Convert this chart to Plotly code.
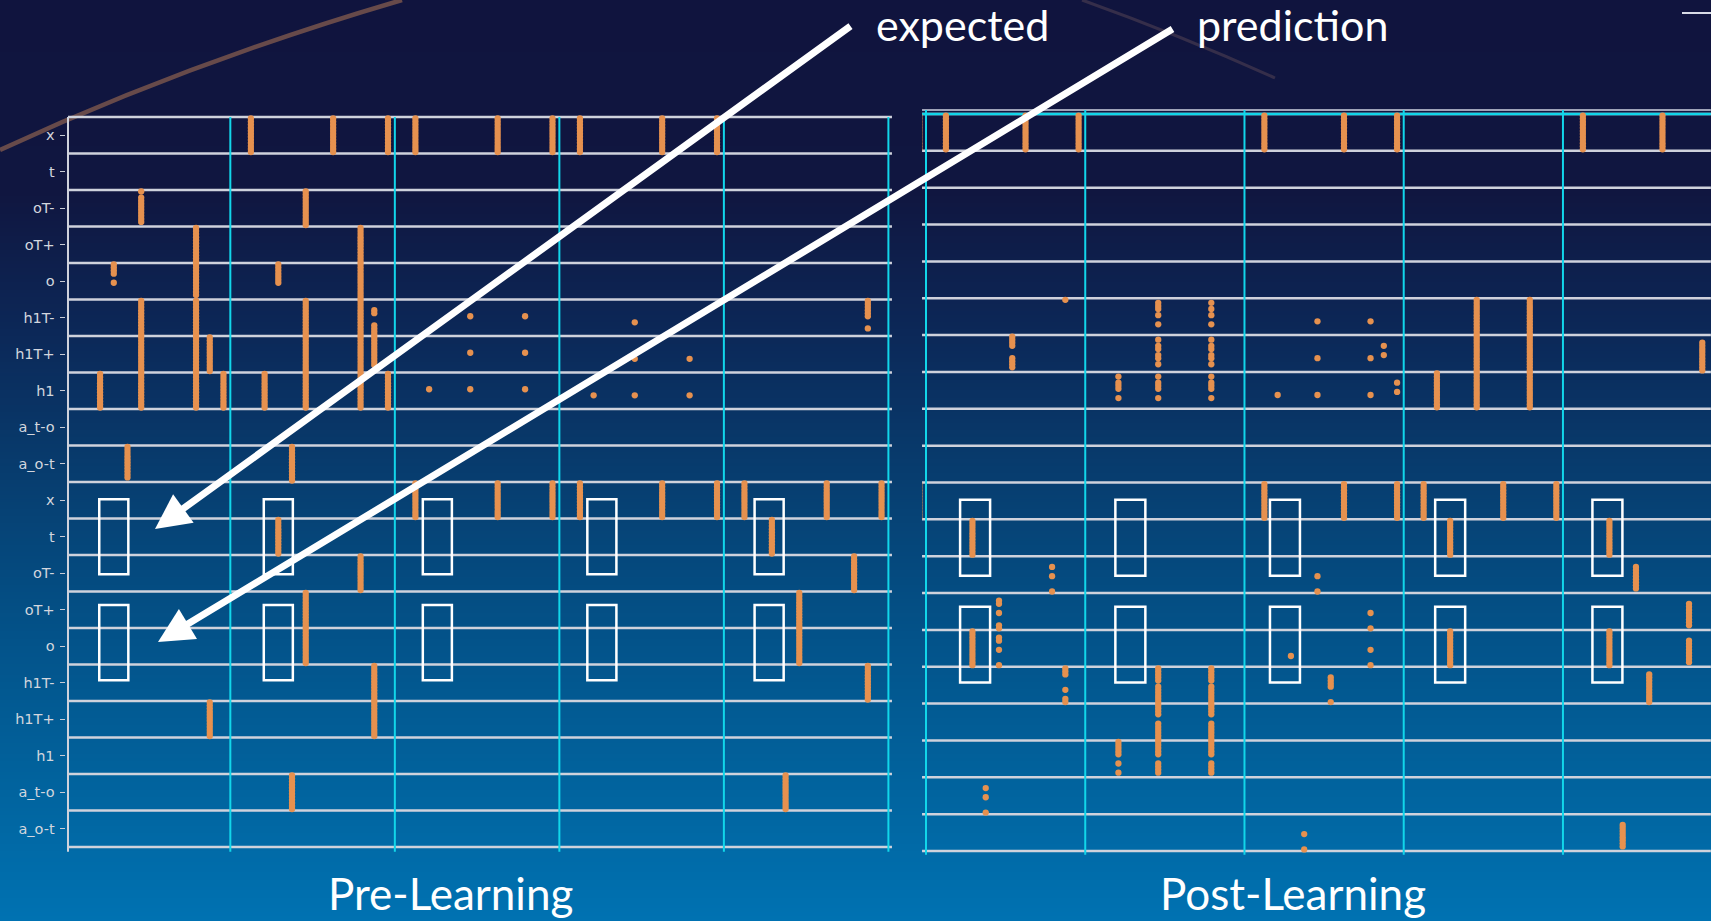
import base64
import struct
import zlib

import plotly.graph_objects as go

W, H = 1711, 921

# ---------------------------------------------------------------- data
ROW_LABELS = ["x", "t", "oT-", "oT+", "o", "h1T-", "h1T+", "h1", "a_t-o", "a_o-t",
              "x", "t", "oT-", "oT+", "o", "h1T-", "h1T+", "h1", "a_t-o", "a_o-t"]
NEURONS = 12          # neurons per population row
F = "|" * NEURONS     # whole population fires

# (time step, row, firing pattern of the row's neurons, top to bottom)
PRE_EVENTS = [
    (13, 0, F), (19, 0, F), (23, 0, F), (25, 0, F), (31, 0, F), (35, 0, F), (37, 0, F), (43, 0, F), (47, 0, F),
    (5, 2, "|.|||||||||."), (17, 2, F),
    (9, 3, F), (21, 3, F),
    (3, 4, "||||..|....."), (9, 4, "|||||||||||."), (15, 4, "|||||||....."), (21, 4, F),
    (5, 5, F), (9, 5, F), (17, 5, F), (21, 5, F), (22, 5, "...||...||||"),
    (29, 5, ".....|......"), (33, 5, ".....|......"), (41, 5, ".......|...."), (58, 5, "||||||...|.."),
    (5, 6, F), (9, 6, F), (10, 6, F), (17, 6, F), (21, 6, F), (22, 6, "||||||||||.."),
    (29, 6, ".....|......"), (33, 6, ".....|......"), (41, 6, ".......|...."), (45, 6, ".......|...."),
    (2, 7, F), (5, 7, F), (9, 7, F), (11, 7, F), (14, 7, F), (17, 7, F), (21, 7, F), (23, 7, F),
    (26, 7, ".....|......"), (29, 7, ".....|......"), (33, 7, ".....|......"),
    (38, 7, ".......|...."), (41, 7, ".......|...."), (45, 7, ".......|...."),
    (4, 9, "|||||||||||."), (16, 9, F),
    (25, 10, F), (31, 10, F), (35, 10, F), (37, 10, F), (43, 10, F), (47, 10, F), (49, 10, F), (55, 10, F), (59, 10, F),
    (15, 11, F), (51, 11, F),
    (21, 12, F), (57, 12, F),
    (17, 13, F), (53, 13, F),
    (17, 14, F), (53, 14, F),
    (22, 15, F), (58, 15, F),
    (10, 16, F), (22, 16, F),
    (16, 18, F), (52, 18, F),
]

POST_EVENTS = [
    (-1, 0, F), (1, 0, F), (7, 0, F), (11, 0, F), (25, 0, F), (31, 0, F), (35, 0, F), (49, 0, F), (55, 0, F),
    (10, 5, "|..........."), (17, 5, ".|||.|..|..."), (21, 5, ".|.|.|..|..."),
    (29, 5, ".......|...."), (33, 5, ".......|...."), (41, 5, F), (45, 5, F),
    (6, 6, "||||...||||."), (17, 6, ".|.||.||.|.."), (21, 6, ".|.||.||.|.."),
    (29, 6, ".......|...."), (33, 6, ".......|...."), (34, 6, "...|..|....."),
    (41, 6, F), (45, 6, F), (58, 6, "..||||||||||"),
    (14, 7, ".|.|||..|..."), (17, 7, ".|.|||..|..."), (21, 7, ".|.|||..|..."),
    (26, 7, ".......|...."), (29, 7, ".......|...."), (33, 7, ".......|...."), (35, 7, "...|..|....."),
    (38, 7, F), (41, 7, F), (45, 7, F),
    (-1, 10, F), (25, 10, F), (31, 10, F), (35, 10, F), (37, 10, F), (43, 10, F), (47, 10, F),
    (3, 11, F), (39, 11, F), (51, 11, F),
    (9, 12, "...|..|....|"), (29, 12, "......|....|"), (53, 12, "...||||||||."),
    (5, 13, "..||..|...||"), (33, 13, "......|....|"), (57, 13, "...||||||||."),
    (3, 14, F), (5, 14, "..||..|....|"), (27, 14, "........|..."), (33, 14, "......|....|"),
    (39, 14, F), (51, 14, F), (57, 14, "...||||||||."),
    (10, 15, "|||....|..||"), (17, 15, "|||||.||||||"), (21, 15, "|||||.||||||"),
    (30, 15, "...||||....|"), (54, 15, "..||||||||||"),
    (17, 16, "||||..||||||"), (21, 16, "||||..||||||"),
    (14, 17, "|||||..|..|."), (17, 17, "|||||..||||."), (21, 17, "|||||..||||."),
    (4, 18, "...|..|....|"),
    (28, 19, "......|....|"), (52, 19, "...||||||||."),
]

# episode boundaries (every 12 steps)
PRE_EPISODE_EDGES = [11.5, 23.5, 35.5, 47.5, 59.5]
POST_EPISODE_EDGES = [-0.5, 11.5, 23.5, 35.5, 47.5, 59.5]

# centres of the highlighted comparison windows (time steps)
PRE_WINDOWS = [3.0, 15.0, 26.6, 38.6, 50.8]
POST_WINDOWS = [3.2, 14.9, 26.55, 39.0, 50.85]
WINDOW_ROWS = [(9.97, 12.03), (12.87, 14.93)]

TITLES = ["Pre-Learning", "Post-Learning"]

# ---------------------------------------------------------------- style
ORANGE = "#e6914f"
GRID = "#cfd2dc"
CYAN = "#12d6ea"
TEXT = "#ffffff"

# panel geometry: px = a + b*step ; py = c + d*row
PANELS = {
    "pre": dict(a=72.66, b=13.71, c=135.25, d=36.5, xlim=(-0.45, 59.85), ylim=(-0.62, 19.68),
                grid_x=(-0.34, 59.76)),
    "post": dict(a=932.635, b=13.27, c=132.425, d=36.85, xlim=(-0.8, 58.65), ylim=(-0.72, 19.68),
                 grid_x=(-0.8, 58.65)),
}


def domains(p):
    x0 = (p["a"] + p["b"] * p["xlim"][0]) / W
    x1 = min(1.0, (p["a"] + p["b"] * p["xlim"][1]) / W)
    ytop = p["c"] + p["d"] * p["ylim"][0]
    ybot = p["c"] + p["d"] * p["ylim"][1]
    return [x0, x1], [1 - ybot / H, 1 - ytop / H]


def expand(events):
    xs, ys = [], []
    for step, row, pattern in events:
        for j, ch in enumerate(pattern):
            if ch == "|":
                xs.append(step)
                ys.append(row - 0.5 + (j + 0.5) / NEURONS)
    return xs, ys


def gradient_uri(stops, height=256):
    raw = bytearray()
    for i in range(height):
        y = i * (H - 1) / (height - 1)
        for k in range(len(stops) - 1):
            y0, c0 = stops[k]
            y1, c1 = stops[k + 1]
            if y0 <= y <= y1:
                f = (y - y0) / (y1 - y0)
                rgb = [round(c0[n] + (c1[n] - c0[n]) * f) for n in range(3)]
                break
        raw += b"\x00" + bytes(rgb) * 2

    def chunk(tag, data):
        return (struct.pack(">I", len(data)) + tag + data
                + struct.pack(">I", zlib.crc32(tag + data) & 0xFFFFFFFF))

    png = (b"\x89PNG\r\n\x1a\n"
           + chunk(b"IHDR", struct.pack(">IIBBBBB", 2, height, 8, 2, 0, 0, 0))
           + chunk(b"IDAT", zlib.compress(bytes(raw)))
           + chunk(b"IEND", b""))
    return "data:image/png;base64," + base64.b64encode(png).decode()


BACKDROP = [
    (0, (16, 20, 62)), (190, (16, 22, 64)), (330, (12, 40, 88)), (480, (7, 62, 112)),
    (640, (3, 83, 138)), (800, (1, 101, 160)), (921, (0, 114, 178)),
]

fig = go.Figure()
shapes = []

for key, events, xa, ya in (("pre", PRE_EVENTS, "x", "y"), ("post", POST_EVENTS, "x2", "y2")):
    xs, ys = expand(events)
    fig.add_trace(go.Scatter(
        x=xs, y=ys, mode="markers", xaxis=xa, yaxis=ya, hoverinfo="skip", showlegend=False,
        marker=dict(color=ORANGE, size=6.3, line=dict(width=0)),
    ))
    p = PANELS[key]
    gx0, gx1 = p["grid_x"]
    for r in range(21):
        shapes.append(dict(type="line", xref=xa, yref=ya, x0=gx0, x1=gx1, y0=r - 0.5, y1=r - 0.5,
                           line=dict(color=GRID, width=2.5), layer="below"))

# left spine of the pre-learning panel
shapes.append(dict(type="line", xref="x", yref="y", x0=-0.34, x1=-0.34, y0=-0.5, y1=19.63,
                   line=dict(color=GRID, width=2), layer="below"))

for e in PRE_EPISODE_EDGES:
    shapes.append(dict(type="line", xref="x", yref="y", x0=e, x1=e, y0=-0.5, y1=19.63,
                       line=dict(color=CYAN, width=2), layer="below"))

# post-learning panel: doubled top rule, cyan episode edges
shapes.append(dict(type="line", xref="x2", yref="y2", x0=-0.8, x1=58.65, y0=-0.61, y1=-0.61,
                   line=dict(color="#9ea3b8", width=2), layer="below"))
for e in POST_EPISODE_EDGES:
    shapes.append(dict(type="line", xref="x2", yref="y2", x0=e, x1=e, y0=-0.61, y1=19.6,
                       line=dict(color=CYAN, width=2), layer="below"))
shapes.append(dict(type="line", xref="x2", yref="y2", x0=-0.8, x1=58.65, y0=-0.5, y1=-0.5,
                   line=dict(color=CYAN, width=2.5), layer="below"))

# highlighted windows
for centres, half, xa, ya in ((PRE_WINDOWS, 1.06, "x", "y"), (POST_WINDOWS, 1.13, "x2", "y2")):
    for c in centres:
        for r0, r1 in WINDOW_ROWS:
            shapes.append(dict(type="rect", xref=xa, yref=ya, x0=c - half, x1=c + half, y0=r0, y1=r1,
                               line=dict(color="white", width=2.5), fillcolor="rgba(0,0,0,0)"))


def px(x):
    return x / W


def py(y):
    return 1 - y / H


# slide decoration: faint arcs and corner rule
shapes.append(dict(type="path", xref="paper", yref="paper",
                   path=f"M {px(0)} {py(150)} Q {px(190)} {py(62)} {px(402)} {py(0)}",
                   line=dict(color="rgba(125,88,78,0.8)", width=4.5), layer="below"))
shapes.append(dict(type="path", xref="paper", yref="paper",
                   path=f"M {px(1082)} {py(0)} Q {px(1180)} {py(35)} {px(1275)} {py(78)}",
                   line=dict(color="rgba(110,84,92,0.4)", width=3), layer="below"))
shapes.append(dict(type="line", xref="paper", yref="paper", x0=px(1682), x1=px(1711), y0=py(13), y1=py(13),
                   line=dict(color="#d8dbe6", width=2)))

annotations = []
# arrows from the labels into the windows
ARROWS = [((852, 25), (155, 529)), ((1174, 28), (158, 642))]
for (tx, ty), (hx, hy) in ARROWS:
    annotations.append(dict(xref="paper", yref="paper", x=px(hx), y=py(hy), ax=tx - hx, ay=ty - hy,
                            axref="pixel", ayref="pixel", text="", showarrow=True,
                            arrowhead=2, arrowsize=1.0, arrowwidth=7, arrowcolor="white"))

for label, x in (("expected", 874), ("prediction", 1195)):
    annotations.append(dict(xref="paper", yref="paper", x=px(x), y=py(24), xanchor="left", yanchor="middle",
                            text=label, showarrow=False, font=dict(family="Lato", size=43, color=TEXT)))

for label, x in zip(TITLES, (451, 1293)):
    annotations.append(dict(xref="paper", yref="paper", x=px(x), y=py(893), xanchor="center", yanchor="middle",
                            text=label, showarrow=False, font=dict(family="Lato", size=44, color=TEXT)))

pre_xd, pre_yd = domains(PANELS["pre"])
post_xd, post_yd = domains(PANELS["post"])

axis_common = dict(showgrid=False, zeroline=False, showline=False)
fig.update_layout(
    width=W, height=H, margin=dict(l=0, r=0, t=0, b=0),
    paper_bgcolor="#0f143e", plot_bgcolor="rgba(0,0,0,0)",
    xaxis=dict(domain=pre_xd, range=list(PANELS["pre"]["xlim"]), showticklabels=False, ticks="",
               anchor="y", **axis_common),
    yaxis=dict(domain=pre_yd, range=[PANELS["pre"]["ylim"][1], PANELS["pre"]["ylim"][0]], anchor="x",
               tickmode="array", tickvals=list(range(20)), ticktext=ROW_LABELS,
               ticks="outside", ticklen=5, tickwidth=1.3, tickcolor="#c9ccd6", ticklabelstandoff=3,
               tickfont=dict(family="DejaVu Sans", size=14.5, color="#d3d6de"), **axis_common),
    xaxis2=dict(domain=post_xd, range=list(PANELS["post"]["xlim"]), showticklabels=False, ticks="",
                anchor="y2", **axis_common),
    yaxis2=dict(domain=post_yd, range=[PANELS["post"]["ylim"][1], PANELS["post"]["ylim"][0]], anchor="x2",
                showticklabels=False, ticks="", **axis_common),
    shapes=shapes,
    annotations=annotations,
    images=[dict(source=gradient_uri(BACKDROP), xref="paper", yref="paper", x=0, y=1, sizex=1, sizey=1,
                 sizing="stretch", xanchor="left", yanchor="top", layer="below")],
)

fig.write_html("out.html")
